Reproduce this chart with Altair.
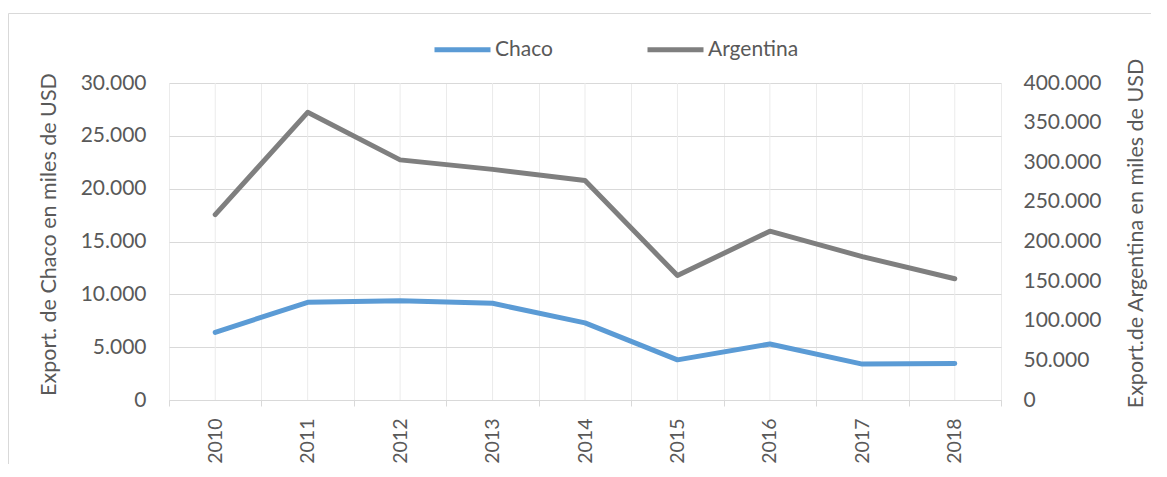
import altair as alt
import pandas as pd

years = ['2010', '2011', '2012', '2013', '2014', '2015', '2016', '2017', '2018']
chaco = [6400, 9250, 9400, 9150, 7300, 3800, 5300, 3400, 3450]
argentina = [234000, 363000, 303000, 291000, 277000, 157000, 213000, 181000, 153000]
series = ['Chaco', 'Argentina']
colors = ['#5b9bd5', '#7f7f7f']
left_ticks = [0, 5000, 10000, 15000, 20000, 25000, 30000]
right_ticks = [0, 50000, 100000, 150000, 200000, 250000, 300000, 350000, 400000]

df = pd.DataFrame({'year': years, 'chaco': chaco, 'argentina': argentina})

FONT = 'Lato'
TXT = '#595959'
FS = 21
FST = 21.5
FSX = 19.5
label_expr = "replace(format(datum.value, ','), regexp(',', 'g'), '.')"

xscale = alt.Scale(type='band', paddingInner=0, paddingOuter=0)
xaxis = alt.Axis(title=None, labelAngle=-90, labelAlign='right', labelBaseline='middle',
                 tickBand='extent', grid=True, gridColor='#ebebeb', ticks=True,
                 tickColor='#d9d9d9', tickSize=6, domainColor='#d9d9d9',
                 labelPadding=12, labelFontSize=FSX, labelColor=TXT, labelFont=FONT)
X = alt.X('year:O', scale=xscale, axis=xaxis, bandPosition=0.5)

cscale = alt.Scale(domain=series, range=colors)
legend = alt.Legend(orient='none', legendX=263, legendY=-64, direction='horizontal',
                    title=None, symbolType='stroke', symbolSize=3136, symbolStrokeWidth=5,
                    labelFontSize=FS, labelFont=FONT, labelColor=TXT, labelOffset=2,
                    columnPadding=84)
C = alt.Color('serie:N', scale=cscale, legend=legend)

base = alt.Chart(df)

frame = alt.Chart(pd.DataFrame({'a': [0]})).mark_rect(
    fill=None, stroke='#d9d9d9', strokeWidth=1, clip=False
).encode(x=alt.value(-160.5), x2=alt.value(1200), y=alt.value(-69.5), y2=alt.value(600))

vgrid = base.mark_rule(color='#ebebeb', strokeWidth=1).encode(x=X)

l1 = base.transform_calculate(serie="'Chaco'").mark_line(
    strokeWidth=5, strokeCap='round', strokeJoin='round').encode(
    x=X,
    y=alt.Y('chaco:Q', scale=alt.Scale(domain=[0, 30000]),
            axis=alt.Axis(orient='left', values=left_ticks,
                          title='Export. de Chaco en miles de USD',
                          grid=True, gridColor='#d9d9d9', ticks=False, domain=False,
                          labelExpr=label_expr, labelPadding=23, titlePadding=20,
                          titleY=151,
                          labelFontSize=FS, labelFont=FONT, labelColor=TXT,
                          titleFontSize=FST, titleFont=FONT, titleColor=TXT,
                          titleFontWeight='normal')),
    color=C,
)

l2 = base.transform_calculate(serie="'Argentina'").mark_line(
    strokeWidth=5, strokeCap='round', strokeJoin='round').encode(
    x=X,
    y=alt.Y('argentina:Q', scale=alt.Scale(domain=[0, 400000]),
            axis=alt.Axis(orient='right', values=right_ticks,
                          title='Export.de Argentina en miles de USD',
                          grid=False, ticks=False, domain=False,
                          labelExpr=label_expr, labelPadding=22, titlePadding=24,
                          titleAngle=270, titleBaseline='top', titleY=150,
                          labelFontSize=FS, labelFont=FONT, labelColor=TXT,
                          titleFontSize=FST, titleFont=FONT, titleColor=TXT,
                          titleFontWeight='normal')),
    color=C,
)

chart = alt.layer(frame, vgrid, l1, l2).resolve_scale(y='independent').properties(
    width=832, height=317,
    autosize=alt.AutoSizeParams(type='none'),
    padding={'left': 161, 'top': 75, 'right': 150, 'bottom': 64},
    background='white',
).configure_view(stroke=None)

chart.save('out.html', embed_options={'renderer': 'svg', 'actions': False})
